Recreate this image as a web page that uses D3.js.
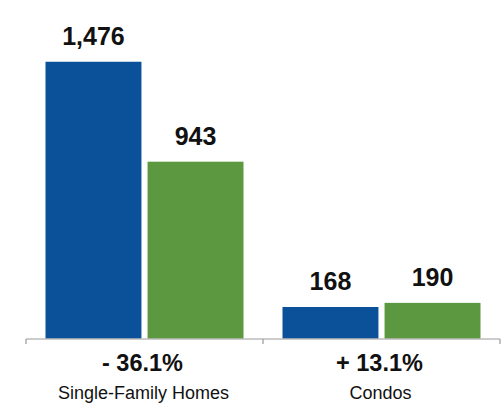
<!DOCTYPE html>
<html>
<head>
<meta charset="utf-8">
<script src="https://cdn.jsdelivr.net/npm/d3@7"></script>
<style>
  html, body { margin: 0; padding: 0; background: #fff; }
  svg { display: block; }
  text { font-family: "Liberation Sans", Arial, Helvetica, sans-serif; fill: #111; }
</style>
</head>
<body>
<svg id="chart" width="501" height="404"></svg>
<script>
// Property types and the two periods compared
const categories = ["Single-Family Homes", "Condos"];
const periods = ["prior", "current"];
const priorValues = [1476, 168];
const currentValues = [943, 190];
const changeLabels = ["- 36.1%", "+ 13.1%"];

const colors = { prior: "#0b5199", current: "#5b983f" };

const svg = d3.select("#chart");
const baseY = 338.5;

const x = d3.scaleBand()
  .domain(categories)
  .range([26, 500])
  .paddingInner(0)
  .paddingOuter(0);

const xInner = d3.scaleBand()
  .domain(periods)
  .range([19.5, x.bandwidth() - 19.5])
  .paddingInner(0.06);

const y = d3.scaleLinear()
  .domain([0, 1600])
  .range([baseY, 38.5]);

const rows = categories.map((c, i) => ({
  category: c,
  change: changeLabels[i],
  values: [
    { period: "prior", value: priorValues[i] },
    { period: "current", value: currentValues[i] }
  ]
}));

const groups = svg.selectAll("g.group")
  .data(rows)
  .join("g")
  .attr("class", "group")
  .attr("transform", d => `translate(${x(d.category)},0)`);

groups.selectAll("rect")
  .data(d => d.values)
  .join("rect")
  .attr("x", d => xInner(d.period))
  .attr("y", d => y(d.value))
  .attr("width", xInner.bandwidth())
  .attr("height", d => y(0) - y(d.value))
  .attr("fill", d => colors[d.period]);

groups.selectAll("text.value")
  .data(d => d.values)
  .join("text")
  .attr("class", "value")
  .attr("x", d => xInner(d.period) + xInner.bandwidth() / 2)
  .attr("y", d => y(d.value) - 17)
  .attr("text-anchor", "middle")
  .style("font-size", "25px")
  .style("font-weight", "bold")
  .text(d => d3.format(",")(d.value));

// Category axis along the baseline
const axis = svg.append("g")
  .attr("transform", `translate(0,${baseY + 0.5})`);
axis.append("line")
  .attr("x1", x.range()[0]).attr("x2", x.range()[1])
  .attr("stroke", "#999").attr("stroke-width", 1.2);
axis.selectAll("line.tick")
  .data([...categories.map(c => x(c)), x.range()[1]])
  .join("line")
  .attr("class", "tick")
  .attr("x1", d => d).attr("x2", d => d)
  .attr("y1", 0).attr("y2", 5)
  .attr("stroke", "#999").attr("stroke-width", 1.2);

groups.append("text")
  .attr("x", x.bandwidth() / 2 - 2)
  .attr("y", 370.5)
  .attr("text-anchor", "middle")
  .style("font-size", "23.5px")
  .style("font-weight", "bold")
  .text(d => d.change);

groups.append("text")
  .attr("x", x.bandwidth() / 2 - 1)
  .attr("y", 399)
  .attr("text-anchor", "middle")
  .style("font-size", "18px")
  .text(d => d.category);
</script>
</body>
</html>
